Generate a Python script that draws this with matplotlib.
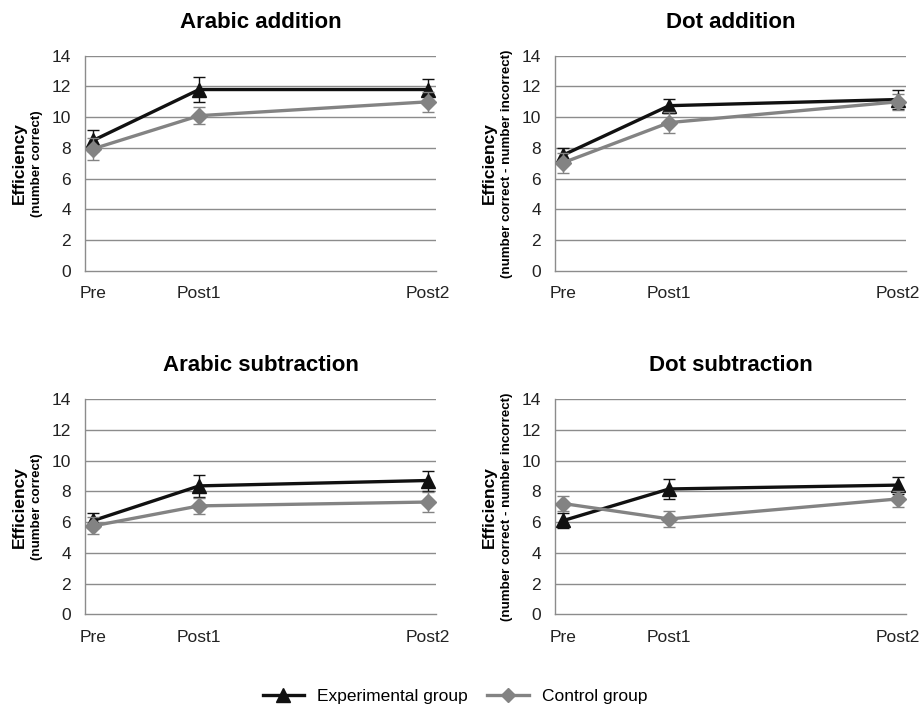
import numpy as np
import matplotlib
matplotlib.use("Agg")
import matplotlib.pyplot as plt
from matplotlib.lines import Line2D

plt.rcParams['font.family'] = ['Liberation Sans', 'DejaVu Sans']

# sessions and where they sit on the time axis
sessions = ["Pre", "Post1", "Post2"]
session_x = [0, 1, 3.16]

titles = ["Arabic addition", "Dot addition", "Arabic subtraction", "Dot subtraction"]
sublabels = ["(number correct)", "(number correct - number incorrect)",
             "(number correct)", "(number correct - number incorrect)"]

exp_mean = [[8.5, 11.8, 11.8],
            [7.55, 10.75, 11.15],
            [6.1, 8.35, 8.7],
            [6.1, 8.15, 8.4]]
exp_err = [[0.7, 0.8, 0.7],
           [0.45, 0.45, 0.6],
           [0.5, 0.7, 0.65],
           [0.5, 0.65, 0.55]]
ctl_mean = [[7.95, 10.1, 11.0],
            [7.05, 9.65, 11.0],
            [5.75, 7.05, 7.3],
            [7.2, 6.2, 7.5]]
ctl_err = [[0.7, 0.55, 0.65],
           [0.65, 0.7, 0.5],
           [0.55, 0.5, 0.65],
           [0.5, 0.5, 0.5]]

exp_col = "#111111"
ctl_col = "#838383"
grid_col = "#8c8c8c"

fig = plt.figure(figsize=(9.19, 7.08), dpi=100)
W, H = 919, 708
boxes = [(85, 55.7), (555, 55.7), (85, 399), (555, 399)]
aw, ah = 351, 215.3

for i in range(4):
    x0, y0 = boxes[i]
    ax = fig.add_axes([x0 / W, 1 - (y0 + ah) / H, aw / W, ah / H])
    ax.set_ylim(0, 14)
    ax.set_xlim(-0.08, 3.24)
    ax.set_yticks(range(0, 15, 2))
    ax.set_xticks(session_x)
    ax.set_xticklabels(sessions)
    ax.tick_params(length=0, labelsize=12.5, colors="#222222")
    ax.tick_params(axis="x", pad=11)
    ax.tick_params(axis="y", pad=10)
    for y in range(2, 15, 2):
        ax.axhline(y, color=grid_col, lw=1.0, zorder=0)
    for s in ["top", "right"]:
        ax.spines[s].set_visible(False)
    ax.spines["left"].set_color(grid_col)
    ax.spines["bottom"].set_color(grid_col)
    ax.spines["left"].set_linewidth(1.0)
    ax.spines["bottom"].set_linewidth(1.0)

    ax.errorbar(session_x, exp_mean[i], yerr=exp_err[i], color=exp_col, lw=2.4,
                marker="^", ms=10, elinewidth=1, capsize=4, capthick=1, zorder=3)
    ax.errorbar(session_x, ctl_mean[i], yerr=ctl_err[i], color=ctl_col, lw=2.4,
                marker="D", ms=8, elinewidth=1, capsize=4, capthick=1, zorder=4)

    ax.set_title(titles[i], fontsize=16, fontweight="bold", pad=20)

    # two-line y label
    ax.text(-66 / aw, 0.5, "Efficiency", transform=ax.transAxes, rotation=90,
            ha="center", va="center", fontsize=12.5, fontweight="bold")
    ax.text(-48 / aw, 0.5, sublabels[i], transform=ax.transAxes, rotation=90,
            ha="center", va="center", fontsize=9.6, fontweight="bold")

handles = [Line2D([], [], color=exp_col, lw=2.4, marker="^", ms=10),
           Line2D([], [], color=ctl_col, lw=2.4, marker="D", ms=7)]
fig.legend(handles, ["Experimental group", "Control group"], loc="center",
           bbox_to_anchor=(455 / W, 1 - 696 / H), ncol=2, frameon=False,
           fontsize=12.5, handlelength=2.4, columnspacing=1.1, handletextpad=0.75)

fig.savefig("out.png", dpi=100)
